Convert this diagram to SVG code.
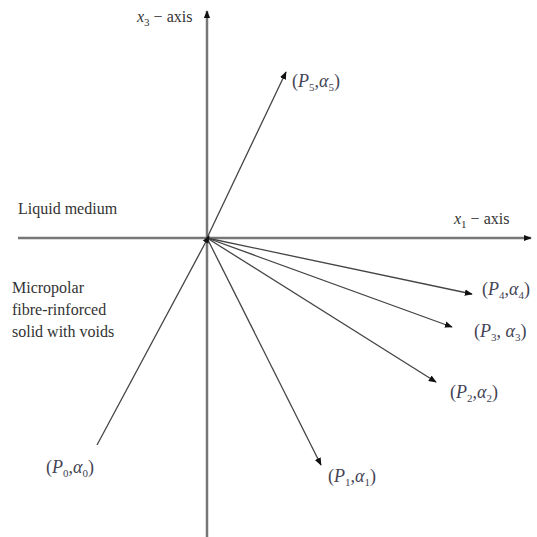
<svg xmlns="http://www.w3.org/2000/svg" width="537" height="537" viewBox="0 0 537 537">
<style>
.ax{stroke:#777;stroke-width:2.5;fill:none}
.ln{stroke:#444;stroke-width:1.3;fill:none}
.t{font-family:"Liberation Serif",serif;font-size:16px;fill:#333}
.m{font-family:"Liberation Serif",serif;font-size:18px;fill:#445}
.i{font-style:italic}
.s{font-size:11px}
</style>
<defs>
<marker id="ah" viewBox="0 0 10 10" refX="9" refY="5" markerWidth="8" markerHeight="8" markerUnits="userSpaceOnUse" orient="auto"><path d="M0,1 L10,5 L0,9 z" fill="#111"/></marker>
</defs>
<rect width="537" height="537" fill="#fff"/>
<g id="connectors">
<line class="ax" x1="207" y1="537" x2="207" y2="11" marker-end="url(#ah)"/>
<line class="ax" x1="18" y1="238" x2="531" y2="238" marker-end="url(#ah)"/>
<line class="ln" x1="207" y1="238" x2="286" y2="72" marker-end="url(#ah)"/>
<line class="ln" x1="207" y1="238" x2="472" y2="294" marker-end="url(#ah)"/>
<line class="ln" x1="207" y1="238" x2="452" y2="327" marker-end="url(#ah)"/>
<line class="ln" x1="207" y1="238" x2="436" y2="382" marker-end="url(#ah)"/>
<line class="ln" x1="207" y1="238" x2="321" y2="465" marker-end="url(#ah)"/>
<line class="ln" x1="97" y1="445" x2="209" y2="236" marker-end="url(#ah)"/>
</g>
<g id="axis-x3"><text class="t" x="137" y="22"><tspan class="i">x</tspan><tspan class="s" dy="4">3</tspan><tspan dy="-4"> − axis</tspan></text></g>
<g id="axis-x1"><text class="t" x="454" y="224"><tspan class="i">x</tspan><tspan class="s" dy="4">1</tspan><tspan dy="-4"> − axis</tspan></text></g>
<g id="liquid"><text class="t" x="18" y="214">Liquid medium</text></g>
<g id="solid"><text class="t" x="12" y="293">Micropolar</text><text class="t" x="12" y="315">fibre-rinforced</text><text class="t" x="12" y="337">solid with voids</text></g>
<g id="p5"><text class="m" x="292" y="87">(<tspan class="i">P</tspan><tspan class="s" dy="4">5</tspan><tspan dy="-4">,</tspan><tspan class="i">α</tspan><tspan class="s" dy="4">5</tspan><tspan dy="-4">)</tspan></text></g>
<g id="p4"><text class="m" x="482" y="295">(<tspan class="i">P</tspan><tspan class="s" dy="4">4</tspan><tspan dy="-4">,</tspan><tspan class="i">α</tspan><tspan class="s" dy="4">4</tspan><tspan dy="-4">)</tspan></text></g>
<g id="p3"><text class="m" x="474" y="337">(<tspan class="i">P</tspan><tspan class="s" dy="4">3</tspan><tspan dy="-4">, </tspan><tspan class="i">α</tspan><tspan class="s" dy="4">3</tspan><tspan dy="-4">)</tspan></text></g>
<g id="p2"><text class="m" x="450" y="398">(<tspan class="i">P</tspan><tspan class="s" dy="4">2</tspan><tspan dy="-4">,</tspan><tspan class="i">α</tspan><tspan class="s" dy="4">2</tspan><tspan dy="-4">)</tspan></text></g>
<g id="p1"><text class="m" x="328" y="482">(<tspan class="i">P</tspan><tspan class="s" dy="4">1</tspan><tspan dy="-4">,</tspan><tspan class="i">α</tspan><tspan class="s" dy="4">1</tspan><tspan dy="-4">)</tspan></text></g>
<g id="p0"><text class="m" x="46" y="473">(<tspan class="i">P</tspan><tspan class="s" dy="4">0</tspan><tspan dy="-4">,</tspan><tspan class="i">α</tspan><tspan class="s" dy="4">0</tspan><tspan dy="-4">)</tspan></text></g>
</svg>
